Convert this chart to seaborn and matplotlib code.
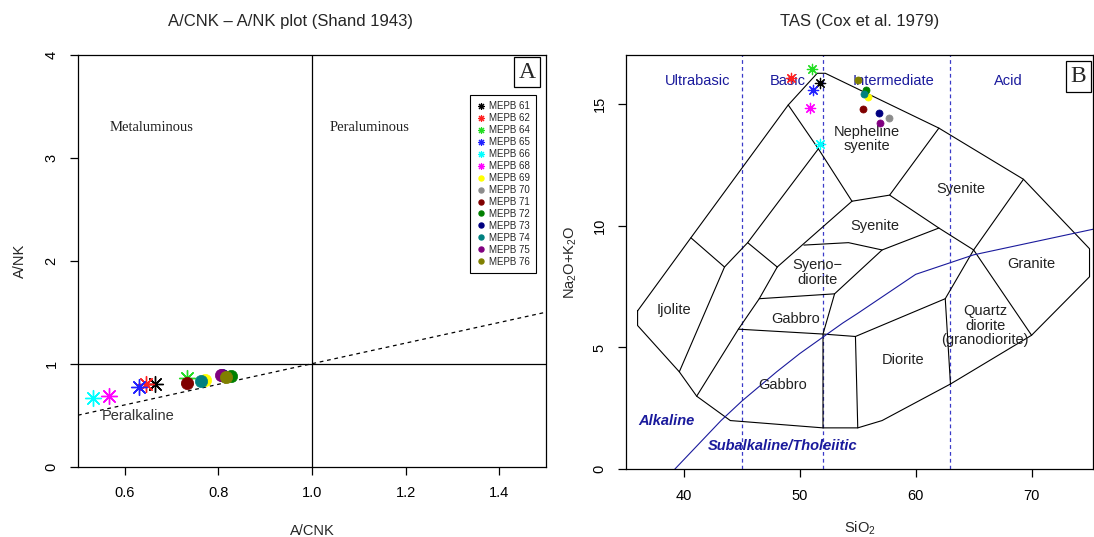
import matplotlib
matplotlib.use("Agg")
import matplotlib.pyplot as plt
from matplotlib.lines import Line2D
import seaborn as sns

# ---------------- data ----------------
samples = ["MEPB 61", "MEPB 62", "MEPB 64", "MEPB 65", "MEPB 66", "MEPB 68", "MEPB 69",
           "MEPB 70", "MEPB 71", "MEPB 72", "MEPB 73", "MEPB 74", "MEPB 75", "MEPB 76"]
colors = ["#000000", "#ff2020", "#22dd22", "#2020ff", "#00ffff", "#ff00ff", "#ffff00",
          "#8c8c8c", "#800000", "#008000", "#000080", "#008080", "#800080", "#808000"]
symbols = ["ast", "ast", "ast", "ast", "ast", "ast", "dot",
           "dot", "dot", "dot", "dot", "dot", "dot", "dot"]

a_cnk = [0.665, 0.645, 0.732, 0.631, 0.533, 0.567, 0.771, 0.812, 0.732, 0.826, 0.808, 0.762, 0.806, 0.816]
a_nk = [0.800, 0.803, 0.858, 0.771, 0.670, 0.689, 0.842, 0.884, 0.816, 0.881, 0.889, 0.832, 0.893, 0.874]

sio2 = [51.78, 49.28, 51.07, 51.16, 51.70, 50.86, 55.90, 57.67, 55.43, 55.72, 56.87, 55.52, 56.96, 55.03]
alk = [15.87, 16.07, 16.41, 15.55, 13.34, 14.84, 15.29, 14.41, 14.80, 15.55, 14.61, 15.42, 14.20, 15.98]

# TAS (Cox et al. 1979, plutonic) field boundaries
outer_x = [36.0, 40.6, 49.0, 51.5, 52.2, 62.0, 69.3, 75.0, 75.0, 70.0, 63.0, 57.1, 55.0, 52.0, 44.0, 41.1, 39.6, 36.0, 36.0]
outer_y = [6.5, 9.5, 14.95, 16.25, 16.25, 14.0, 11.9, 9.05, 7.9, 5.5, 3.5, 2.0, 1.7, 1.7, 2.0, 3.0, 4.0, 5.9, 6.5]
inner_lines = [
    ([40.6, 43.5, 39.6], [9.5, 8.3, 4.0]),
    ([51.6, 45.5, 43.5], [13.15, 9.3, 8.3]),
    ([49.0, 51.6, 54.5], [14.95, 13.15, 11.0]),
    ([45.5, 48.05], [9.3, 8.3]),
    ([48.05, 46.5, 44.7, 41.1], [8.3, 7.0, 5.75, 3.0]),
    ([48.05, 54.5], [8.3, 11.0]),
    ([54.5, 57.75, 62.0], [11.0, 11.25, 14.0]),
    ([57.75, 62.0, 65.0, 70.0], [11.25, 9.9, 9.0, 5.5]),
    ([69.3, 65.0], [11.9, 9.0]),
    ([62.0, 57.1, 53.0, 52.0, 52.0], [9.9, 9.0, 7.2, 5.55, 1.7]),
    ([50.35, 54.2, 57.1], [9.2, 9.3, 9.0]),
    ([46.5, 53.0], [7.0, 7.2]),
    ([44.7, 52.0, 54.8, 62.55, 65.0], [5.75, 5.55, 5.45, 7.0, 9.0]),
    ([54.8, 55.0], [5.45, 1.7]),
    ([62.55, 63.0], [7.0, 3.5]),
]
ib_x = [39.2, 40, 43.2, 45, 48, 50, 53.7, 55, 60, 65, 75.3]
ib_y = [0, 0.4, 2, 2.8, 4, 4.75, 6, 6.4, 8, 8.8, 9.85]
silica_div = [45, 52, 63]

field_names = ["Nepheline\nsyenite", "Syenite", "Syenite", "Syeno\u2212\ndiorite", "Granite", "Ijolite",
               "Gabbro", "Quartz\ndiorite\n(granodiorite)", "Diorite", "Gabbro"]
field_x = [55.75, 63.9, 56.5, 51.5, 69.97, 39.1, 49.6, 66.0, 58.9, 48.5]
field_y = [13.55, 11.5, 10.0, 8.07, 8.44, 6.52, 6.15, 5.9, 4.48, 3.45]
class_names = ["Ultrabasic", "Basic", "Intermediate", "Acid"]
class_x = [41.2, 49.0, 58.1, 68.0]
class_y = 15.93

# ---------------- style ----------------
sns.set_style("ticks")
plt.rcParams["font.family"] = ["Liberation Sans", "DejaVu Sans"]
plt.rcParams["mathtext.default"] = "regular"
plt.rcParams["axes.linewidth"] = 1.0
plt.rcParams["axes.edgecolor"] = "black"

fig = plt.figure(figsize=(10.94, 5.37), dpi=100)
ax1 = fig.add_axes([78 / 1094, (537 - 466.7) / 537, 468 / 1094, 412 / 537])
ax2 = fig.add_axes([626 / 1094, (537 - 469.3) / 537, 467 / 1094, 414.3 / 537])

AST = (8, 2, 0)
blue_txt = "#1a1a9c"

def draw(ax, xs, ys, big):
    for i in range(len(samples)):
        if symbols[i] == "ast":
            sns.scatterplot(x=[xs[i]], y=[ys[i]], ax=ax, color=colors[i], marker=AST,
                            s=130 if big else 55, linewidth=1.0 if big else 0.9,
                            edgecolor=None, zorder=5, legend=False)
        else:
            sns.scatterplot(x=[xs[i]], y=[ys[i]], ax=ax, color=colors[i], marker="o",
                            s=78 if big else 26, linewidth=0.5, edgecolor=colors[i],
                            zorder=5, legend=False)

# ---------------- left: Shand ----------------
ax1.set_xlim(0.5, 1.5)
ax1.set_ylim(0, 4)
ax1.axvline(1.0, color="black", lw=0.9)
ax1.axhline(1.0, color="black", lw=0.9)
ax1.plot([0.5, 1.5], [0.5, 1.5], ls=(0, (3, 3)), color="black", lw=0.9)
draw(ax1, a_cnk, a_nk, True)
ax1.set_xticks([0.6, 0.8, 1.0, 1.2, 1.4])
ax1.set_xticklabels(["0.6", "0.8", "1.0", "1.2", "1.4"])
ax1.set_yticks([0, 1, 2, 3, 4])
ax1.set_xlabel("A/CNK", fontsize=10.5, labelpad=17)
ax1.set_ylabel("A/NK", fontsize=10.5, labelpad=13)
ax1.set_title("A/CNK \u2013 A/NK plot (Shand 1943)", fontsize=12, pad=21, x=0.453)
ax1.text(0.658, 3.29, "Metaluminous", family=["Liberation Serif"], fontsize=10.5, ha="center", va="center", color="#222222")
ax1.text(1.124, 3.29, "Peraluminous", family=["Liberation Serif"], fontsize=10.5, ha="center", va="center", color="#222222")
ax1.text(0.628, 0.49, "Peralkaline", fontsize=10.5, ha="center", va="center", color="#333333")
ax1.text(0.959, 0.958, "A", transform=ax1.transAxes, family=["Liberation Serif"], fontsize=17,
         ha="center", va="center",
         bbox=dict(boxstyle="square,pad=0.2", fc="white", ec="black", lw=0.9))
handles = []
for i in range(len(samples)):
    if symbols[i] == "ast":
        handles.append(Line2D([], [], ls="", marker=AST, color=colors[i], markersize=5, mew=0.8))
    else:
        handles.append(Line2D([], [], ls="", marker="o", color=colors[i], markersize=3.6))
leg = ax1.legend(handles, samples, loc="upper right", bbox_to_anchor=(0.979, 0.902), fontsize=7,
                 frameon=True, fancybox=False, edgecolor="black", framealpha=1,
                 labelspacing=0.2, handlelength=0.8, handletextpad=0.45, borderpad=0.65,
                 borderaxespad=0)
leg.get_frame().set_linewidth(0.8)

# ---------------- right: TAS ----------------
ax2.set_xlim(35, 75.3)
ax2.set_ylim(0, 17)
for xv in silica_div:
    ax2.plot([xv, xv], [0, 17], ls=(0, (3, 2.5)), color="#3a3ac8", lw=0.9)
ax2.plot(outer_x, outer_y, color="black", lw=0.8)
for lx, ly in inner_lines:
    ax2.plot(lx, ly, color="black", lw=0.8)
ax2.plot(ib_x, ib_y, color="#1a1a9c", lw=0.8)
for name, fx, fy in zip(field_names, field_x, field_y):
    ax2.text(fx, fy, name, fontsize=10.5, ha="center", va="center", color="#222222", linespacing=1.05)
for name, cx in zip(class_names, class_x):
    ax2.text(cx, class_y, name, fontsize=10.5, ha="center", va="center", color=blue_txt)
ax2.text(36.1, 1.98, "Alkaline", fontsize=10.5, ha="left", va="center", color=blue_txt,
         fontweight="bold", fontstyle="italic")
ax2.text(42.1, 0.96, "Subalkaline/Tholeiitic", fontsize=10.5, ha="left", va="center", color=blue_txt,
         fontweight="bold", fontstyle="italic")
draw(ax2, sio2, alk, False)
ax2.text(0.968, 0.948, "B", transform=ax2.transAxes, family=["Liberation Serif"], fontsize=17,
         ha="center", va="center",
         bbox=dict(boxstyle="square,pad=0.2", fc="white", ec="black", lw=0.9))
ax2.set_xticks([40, 50, 60, 70])
ax2.set_yticks([0, 5, 10, 15])
ax2.set_xlabel("SiO$_2$", fontsize=10.5, labelpad=12)
ax2.set_ylabel("Na$_2$O+K$_2$O", fontsize=10.5, labelpad=10)
ax2.set_title("TAS (Cox et al. 1979)", fontsize=12, pad=21)

for ax in (ax1, ax2):
    ax.tick_params(axis="both", direction="out", length=6, width=0.9, pad=8, labelsize=10.5, colors="black")
    ax.tick_params(axis="y", labelrotation=90)
    for lab in ax.get_yticklabels():
        lab.set_va("center")
    for sp in ax.spines.values():
        sp.set_visible(True)
        sp.set_linewidth(0.9)
    ax.grid(False)

fig.savefig("out.png", dpi=100)
